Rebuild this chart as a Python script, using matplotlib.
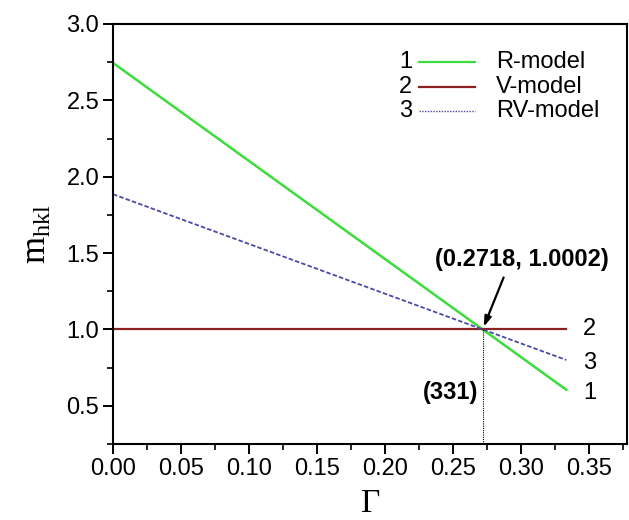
import numpy as np
from matplotlib import pyplot as plt
from matplotlib.ticker import MultipleLocator

plt.rcParams['font.family'] = ['Liberation Sans', 'DejaVu Sans']
plt.rcParams['mathtext.fontset'] = 'custom'
plt.rcParams['mathtext.rm'] = 'Liberation Serif'
plt.rcParams['mathtext.it'] = 'Liberation Serif:italic'

# Gamma values where the model lines are given (start, crossing point, end)
gamma = [0.0, 0.2718, 0.3333]
rModel = [2.745, 1.0002, 0.605]   # 1 R-model
vModel = [1.0, 1.0, 1.0]          # 2 V-model
rvModel = [1.885, 1.0002, 0.80]   # 3 RV-model
labels = ["R-model", "V-model", "RV-model"]
numbers = ["1", "2", "3"]
crossX = 0.2718
crossY = 1.0002

fig = plt.figure(figsize=(6.29, 5.20), dpi=100)
ax = fig.add_axes([0.1797, 0.1462, 0.8172, 0.8077])

green = "#3ddc3d"
darkred = "#8b2020"
blue = "#4a4aa8"

ax.plot(gamma, rModel, color=green, lw=1.8)
ax.plot(gamma, vModel, color=darkred, lw=1.6)
ax.plot(gamma, rvModel, color=blue, lw=1.3, linestyle=(0, (2.5, 1.2)))

# vertical dotted drop line at the crossing
ax.plot([crossX, crossX], [0.25, crossY], color="black", lw=0.8, linestyle=(0, (1, 1)))

ax.annotate("", xy=(crossX, crossY), xytext=(0.288, 1.357),
            arrowprops=dict(arrowstyle="-|>,head_length=0.6,head_width=0.2",
                            color="black", lw=1.6))
ax.text(0.3005, 1.46, "(%.4f, %.4f)" % (crossX, crossY), ha="center", va="center",
        fontsize=17, fontweight="bold")
ax.text(0.2483, 0.585, "(331)", ha="center", va="center", fontsize=17, fontweight="bold")

# curve numbers next to the line ends
ax.text(0.3455, vModel[-1], "2", ha="left", va="center", fontsize=17)
ax.text(0.3455, 0.781, "3", ha="left", va="center", fontsize=17)
ax.text(0.3455, 0.585, "1", ha="left", va="center", fontsize=17)

# hand made legend (number, line, name)
colors = [green, darkred, blue]
styles = ["-", "-", (0, (1, 1))]
widths = [1.6, 1.6, 1.0]
rowsY = [0.910, 0.850, 0.793]
for i in range(3):
    ax.text(0.582, rowsY[i], numbers[i], transform=ax.transAxes, ha="right",
            va="center", fontsize=17)
    ax.plot([0.595, 0.704], [rowsY[i], rowsY[i]], transform=ax.transAxes,
            color=colors[i], lw=widths[i], linestyle=styles[i])
    ax.text(0.745, rowsY[i], labels[i], transform=ax.transAxes, ha="left",
            va="center", fontsize=17)

ax.set_xlim(0, 0.378)
ax.set_ylim(0.25, 3.0)
ax.xaxis.set_major_locator(MultipleLocator(0.05))
ax.xaxis.set_minor_locator(MultipleLocator(0.025))
ax.yaxis.set_major_locator(MultipleLocator(0.5))
ax.yaxis.set_minor_locator(MultipleLocator(0.25))
ax.xaxis.set_major_formatter(plt.FormatStrFormatter("%.2f"))
ax.yaxis.set_major_formatter(plt.FormatStrFormatter("%.1f"))
ax.tick_params(which="major", direction="out", length=7, width=1.4, labelsize=17,
               top=False, right=False, pad=3)
ax.tick_params(which="minor", direction="out", length=4, width=1.2, top=False, right=False)
for s in ax.spines.values():
    s.set_linewidth(1.5)

ax.set_xlabel(r"$\Gamma$", fontsize=24, labelpad=6)
ax.set_ylabel(r"$\mathrm{m_{hkl}}$", fontsize=25, labelpad=10)

plt.savefig("out.png", dpi=100)
